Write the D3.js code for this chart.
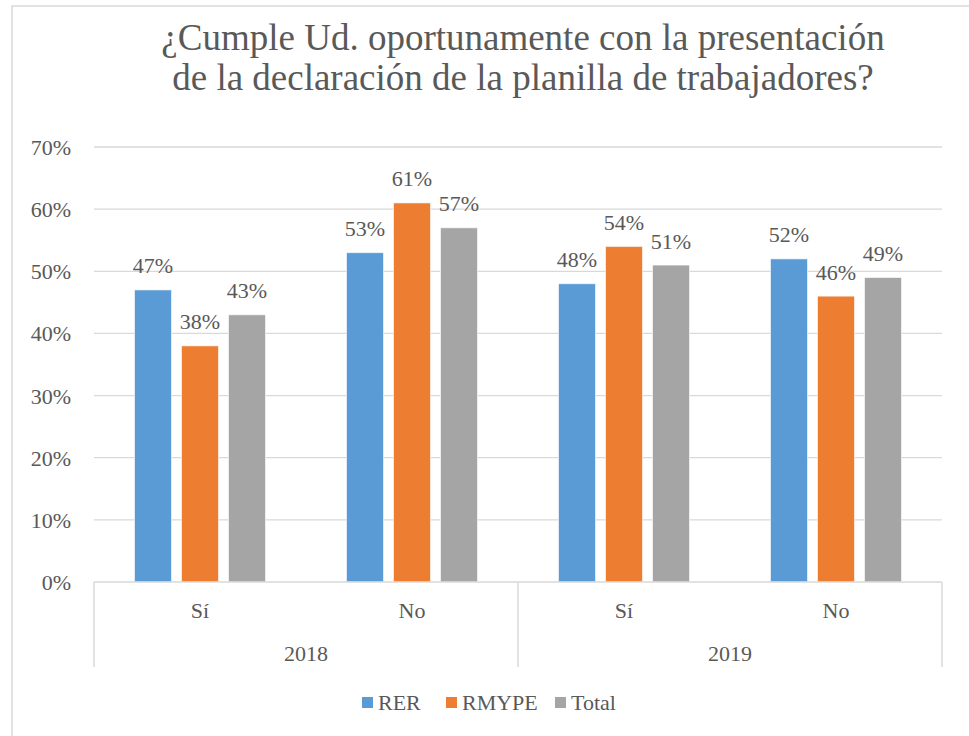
<!DOCTYPE html>
<html><head><meta charset="utf-8">
<script src="https://cdn.jsdelivr.net/npm/d3@7"></script>
</head>
<body style="margin:0"><svg id="chart" width="969" height="736"></svg>
<script>
const titleLines = ["¿Cumple Ud. oportunamente con la presentación", "de la declaración de la planilla de trabajadores?"];
const years = ["2018", "2019"];
const answers = ["Sí", "No"];
const categories = ["2018|Sí", "2018|No", "2019|Sí", "2019|No"];
const seriesNames = ["RER", "RMYPE", "Total"];
const seriesColors = ["#5B9BD5", "#ED7D31", "#A5A5A5"];
const RER = [0.47, 0.53, 0.48, 0.52];
const RMYPE = [0.38, 0.61, 0.54, 0.46];
const Total = [0.43, 0.57, 0.51, 0.49];
const yTicks = [0, 0.1, 0.2, 0.3, 0.4, 0.5, 0.6, 0.7];

const seriesValues = [RER, RMYPE, Total];
const svg = d3.select("#chart");
const gridColor = "#D9D9D9";
function label(x, y, size, anchor, str) {
  return svg.append("text").attr("x", x).attr("y", y).attr("font-family", "Liberation Serif")
    .attr("font-size", size).attr("fill", "#595959").attr("text-anchor", anchor).text(str);
}

// outer border
svg.append("rect").attr("x", 12).attr("y", 6).attr("width", 1040).attr("height", 760)
  .attr("fill", "#fff").attr("stroke", gridColor).attr("stroke-width", 1.5);

const pLeft = 94, pRight = 942, pTop = 147, pBottom = 582;
const y = d3.scaleLinear().domain([0, 0.7]).range([pBottom, pTop]);
const x0 = d3.scaleBand().domain(categories).range([pLeft, pRight]).padding(0);
const x1 = d3.scaleBand().domain(seriesNames).range([0, x0.bandwidth()]).paddingInner(0.213).paddingOuter(0.862);
const pct = d3.format(".0%");

// title
titleLines.forEach((t, i) => label(523, 50 + i * 40, 37, "middle", t));

// gridlines
yTicks.slice(1).forEach(d => {
  svg.append("line").attr("x1", pLeft).attr("x2", pRight).attr("y1", y(d)).attr("y2", y(d))
    .attr("stroke", gridColor).attr("stroke-width", 1.3);
});

// y labels
yTicks.forEach(d => label(71, y(d) + 8, 22, "end", pct(d)));

// bars
seriesNames.forEach((s, si) => {
  seriesValues[si].forEach((d, i) => {
    svg.append("rect").attr("x", x0(categories[i]) + x1(s)).attr("y", y(d))
      .attr("width", x1.bandwidth()).attr("height", pBottom - y(d))
      .attr("fill", seriesColors[si]).attr("stroke", "#fff").attr("stroke-opacity", 0.6).attr("stroke-width", 1);
    label(x0(categories[i]) + x1(s) + x1.bandwidth() / 2, y(d) - 16.5, 22, "middle", pct(d));
  });
});

// axis
const yearScale = d3.scaleBand().domain(years).range([pLeft, pRight]).padding(0);
svg.append("line").attr("x1", pLeft).attr("x2", pRight).attr("y1", pBottom).attr("y2", pBottom)
  .attr("stroke", gridColor).attr("stroke-width", 1.5);
[pLeft, yearScale("2019"), pRight].forEach(xx => {
  svg.append("line").attr("x1", xx).attr("x2", xx).attr("y1", pBottom).attr("y2", 667)
    .attr("stroke", gridColor).attr("stroke-width", 1.5);
});
categories.forEach(c => label(x0(c) + x0.bandwidth() / 2, 618, 22, "middle", c.split("|")[1]));
years.forEach(yr => label(yearScale(yr) + yearScale.bandwidth() / 2, 661, 22, "middle", yr));

// legend
const legendX = [362, 446, 555];
seriesNames.forEach((s, i) => {
  svg.append("rect").attr("x", legendX[i]).attr("y", 697).attr("width", 11).attr("height", 11).attr("fill", seriesColors[i]);
  label(legendX[i] + 16, 710, 22, "start", s);
});
</script></body></html>
